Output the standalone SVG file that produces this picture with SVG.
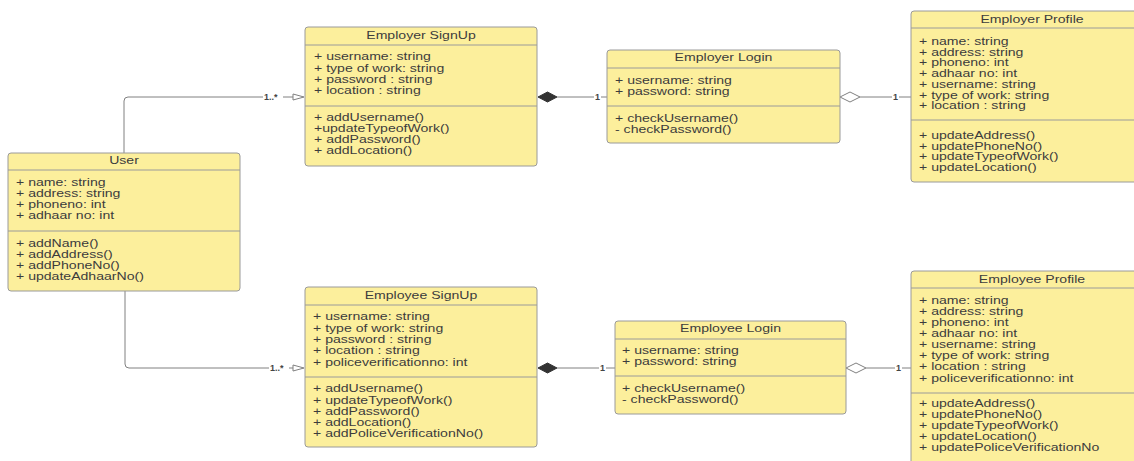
<svg xmlns="http://www.w3.org/2000/svg" width="1134" height="461" viewBox="0 0 1134 461">
<style>
.box{fill:#fcef9c;stroke:#9a9a9a;stroke-width:1}
.div{stroke:#9a9a9a;stroke-width:1}
.t text{font-family:"Liberation Sans",Arial,sans-serif;font-size:11px;fill:#3c3c3c}
.ttl text{font-family:"Liberation Sans",Arial,sans-serif;font-size:11px;fill:#3c3c3c;text-anchor:middle}
.ln{fill:none;stroke:#808080;stroke-width:1}
.lbl{font-family:"Liberation Sans",Arial,sans-serif;font-size:9px;font-weight:bold;fill:#444}
.bg{fill:#fff}
.fd{fill:#333;stroke:#333;stroke-width:1}
.hd{fill:#fff;stroke:#808080;stroke-width:1}
.ar{fill:#fff;stroke:#808080;stroke-width:1}
</style>
<rect width="1134" height="461" fill="#fff"/>

<g id="connectors">
  <path class="ln" d="M124,153 V101 Q124,97 128,97 H293"/>
  <rect class="bg" x="263" y="92" width="20" height="9"/>
  <text class="lbl" x="264" y="100">1..*</text>
  <polygon class="ar" points="293,94 304,97 293,100"/>

  <path class="ln" d="M125,291 V364 Q125,368 129,368 H293"/>
  <rect class="bg" x="269" y="363" width="20" height="9"/>
  <text class="lbl" x="270" y="371">1..*</text>
  <polygon class="ar" points="293,365 304,368 293,371"/>

  <line class="ln" x1="557" y1="97" x2="607" y2="97"/>
  <polygon class="fd" points="538,97 547.5,92 557,97 547.5,102"/>
  <rect class="bg" x="594" y="92" width="7" height="9"/>
  <text class="lbl" x="595" y="100">1</text>

  <line class="ln" x1="860" y1="97" x2="911" y2="97"/>
  <polygon class="hd" points="840,97 850,92 860,97 850,102"/>
  <rect class="bg" x="892" y="92" width="7" height="9"/>
  <text class="lbl" x="893" y="100">1</text>

  <line class="ln" x1="557" y1="368" x2="615" y2="368"/>
  <polygon class="fd" points="538,368 547.5,363 557,368 547.5,373"/>
  <rect class="bg" x="599" y="363" width="7" height="9"/>
  <text class="lbl" x="600" y="371">1</text>

  <line class="ln" x1="866" y1="368" x2="911" y2="368"/>
  <polygon class="hd" points="846,368 856,363 866,368 856,373"/>
  <rect class="bg" x="895" y="363" width="7" height="9"/>
  <text class="lbl" x="896" y="371">1</text>
</g>

<g id="user">
  <rect class="box" x="8" y="153" width="232" height="138" rx="3"/>
  <line class="div" x1="8" y1="170" x2="240" y2="170"/>
  <line class="div" x1="8" y1="231" x2="240" y2="231"/>
  <g class="ttl" transform="translate(124 0) scale(1.28 1)"><text x="0" y="164.5">User</text></g>
  <g class="t" transform="translate(16 0) scale(1.28 1)">
    <text x="0" y="186.5">+ name: string</text>
    <text x="0" y="197.5">+ address: string</text>
    <text x="0" y="208.5">+ phoneno: int</text>
    <text x="0" y="219.5">+ adhaar no: int</text>
    <text x="0" y="247">+ addName()</text>
    <text x="0" y="258">+ addAddress()</text>
    <text x="0" y="269">+ addPhoneNo()</text>
    <text x="0" y="280">+ updateAdhaarNo()</text>
  </g>
</g>

<g id="employer-signup">
  <rect class="box" x="305" y="27" width="232" height="139" rx="3"/>
  <line class="div" x1="305" y1="45" x2="537" y2="45"/>
  <line class="div" x1="305" y1="106" x2="537" y2="106"/>
  <g class="ttl" transform="translate(421 0) scale(1.28 1)"><text x="0" y="39.5">Employer SignUp</text></g>
  <g class="t" transform="translate(314 0) scale(1.28 1)">
    <text x="0" y="60.5">+ username: string</text>
    <text x="0" y="71.8">+ type of work: string</text>
    <text x="0" y="83.1">+ password :  string</text>
    <text x="0" y="94.4">+ location : string</text>
    <text x="0" y="121.5">+ addUsername()</text>
    <text x="0" y="132.5">+updateTypeofWork()</text>
    <text x="0" y="143.5">+ addPassword()</text>
    <text x="0" y="154.5">+ addLocation()</text>
  </g>
</g>

<g id="employer-login">
  <rect class="box" x="607" y="50" width="233" height="93" rx="3"/>
  <line class="div" x1="607" y1="68" x2="840" y2="68"/>
  <line class="div" x1="607" y1="106" x2="840" y2="106"/>
  <g class="ttl" transform="translate(723.5 0) scale(1.28 1)"><text x="0" y="61.5">Employer Login</text></g>
  <g class="t" transform="translate(615 0) scale(1.28 1)">
    <text x="0" y="84">+ username: string</text>
    <text x="0" y="95">+ password: string</text>
    <text x="0" y="122">+ checkUsername()</text>
    <text x="0" y="133">- checkPassword()</text>
  </g>
</g>

<g id="employer-profile">
  <rect class="box" x="911" y="11" width="242" height="171" rx="3"/>
  <line class="div" x1="911" y1="28" x2="1153" y2="28"/>
  <line class="div" x1="911" y1="120" x2="1153" y2="120"/>
  <g class="ttl" transform="translate(1032 0) scale(1.28 1)"><text x="0" y="23.5">Employer Profile</text></g>
  <g class="t" transform="translate(919 0) scale(1.28 1)">
    <text x="0" y="45">+ name: string</text>
    <text x="0" y="55.8">+ address: string</text>
    <text x="0" y="66.5">+ phoneno: int</text>
    <text x="0" y="77.2">+ adhaar no: int</text>
    <text x="0" y="87.9">+ username: string</text>
    <text x="0" y="98.6">+ type of work: string</text>
    <text x="0" y="109.3">+ location : string</text>
    <text x="0" y="139">+ updateAddress()</text>
    <text x="0" y="149.7">+ updatePhoneNo()</text>
    <text x="0" y="160.4">+ updateTypeofWork()</text>
    <text x="0" y="171.1">+ updateLocation()</text>
  </g>
</g>

<g id="employee-signup">
  <rect class="box" x="305" y="287" width="232" height="160" rx="3"/>
  <line class="div" x1="305" y1="305" x2="537" y2="305"/>
  <line class="div" x1="305" y1="377" x2="537" y2="377"/>
  <g class="ttl" transform="translate(421 0) scale(1.28 1)"><text x="0" y="299.5">Employee SignUp</text></g>
  <g class="t" transform="translate(313 0) scale(1.28 1)">
    <text x="0" y="320.5">+ username: string</text>
    <text x="0" y="331.8">+ type of work: string</text>
    <text x="0" y="343.1">+ password :  string</text>
    <text x="0" y="354.4">+ location : string</text>
    <text x="0" y="365.7">+ policeverificationno: int</text>
    <text x="0" y="392.5">+ addUsername()</text>
    <text x="0" y="403.7">+ updateTypeofWork()</text>
    <text x="0" y="414.9">+ addPassword()</text>
    <text x="0" y="426.1">+ addLocation()</text>
    <text x="0" y="437.3">+ addPoliceVerificationNo()</text>
  </g>
</g>

<g id="employee-login">
  <rect class="box" x="615" y="321" width="231" height="93" rx="3"/>
  <line class="div" x1="615" y1="339" x2="846" y2="339"/>
  <line class="div" x1="615" y1="376" x2="846" y2="376"/>
  <g class="ttl" transform="translate(730.5 0) scale(1.28 1)"><text x="0" y="332.5">Employee Login</text></g>
  <g class="t" transform="translate(622 0) scale(1.28 1)">
    <text x="0" y="354.5">+ username: string</text>
    <text x="0" y="365.5">+ password: string</text>
    <text x="0" y="392.5">+ checkUsername()</text>
    <text x="0" y="403.5">- checkPassword()</text>
  </g>
</g>

<g id="employee-profile">
  <rect class="box" x="911" y="271" width="242" height="200" rx="3"/>
  <line class="div" x1="911" y1="288" x2="1153" y2="288"/>
  <line class="div" x1="911" y1="393" x2="1153" y2="393"/>
  <g class="ttl" transform="translate(1032 0) scale(1.28 1)"><text x="0" y="283.5">Employee Profile</text></g>
  <g class="t" transform="translate(919 0) scale(1.28 1)">
    <text x="0" y="304.5">+ name: string</text>
    <text x="0" y="315.5">+ address: string</text>
    <text x="0" y="326.5">+ phoneno: int</text>
    <text x="0" y="337.5">+ adhaar no: int</text>
    <text x="0" y="348.5">+ username: string</text>
    <text x="0" y="359.5">+ type of work: string</text>
    <text x="0" y="370.5">+ location : string</text>
    <text x="0" y="382">+ policeverificationno: int</text>
    <text x="0" y="407">+ updateAddress()</text>
    <text x="0" y="418">+ updatePhoneNo()</text>
    <text x="0" y="429">+ updateTypeofWork()</text>
    <text x="0" y="440">+ updateLocation()</text>
    <text x="0" y="451">+ updatePoliceVerificationNo</text>
  </g>
</g>
</svg>
